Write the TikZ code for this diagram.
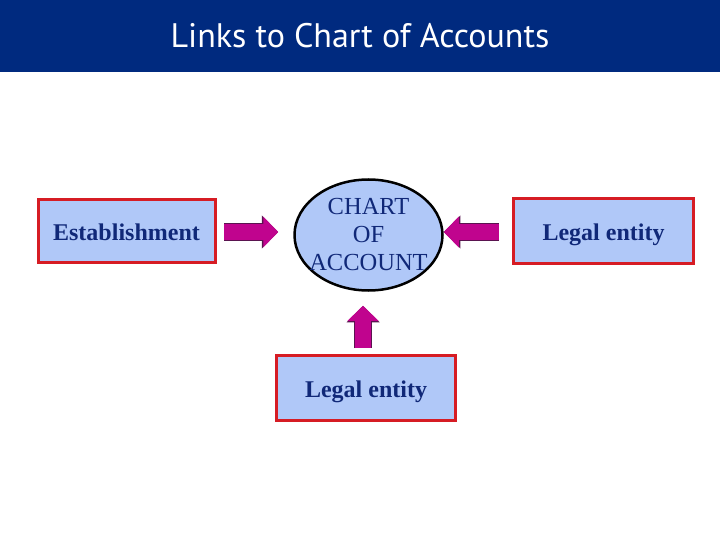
\documentclass[tikz,border=0pt]{standalone}
\usepackage{fontspec}
\setmainfont{Liberation Serif}
\newfontfamily\titlefont{PT Sans}
\usepackage{tikz}
\usetikzlibrary{shapes.geometric, arrows.meta, positioning, calc}
\definecolor{barblue}{RGB}{0,42,127}
\definecolor{boxblue}{RGB}{176,200,248}
\definecolor{boxred}{RGB}{214,28,36}
\definecolor{textnavy}{RGB}{16,40,120}
\definecolor{arrowmag}{RGB}{192,4,142}
\definecolor{arrowline}{RGB}{90,20,80}

\begin{document}
\begin{tikzpicture}[x=1pt, y=-1pt,
		entitybox/.style={draw=boxred, fill=boxblue, line width=3pt, rectangle,
			minimum width=177pt, minimum height=63pt, inner sep=0pt,
			text height=21pt, text depth=2pt,
			text=textnavy, font=\fontsize{24}{28}\selectfont\bfseries},
		chartoval/.style={draw=black, fill=boxblue, line width=2.5pt, ellipse,
			minimum width=148pt, minimum height=111pt, inner sep=0pt},
		chartlabel/.style={align=center, inner sep=0pt,
			text=textnavy, font=\fontsize{24.5}{28}\selectfont},
		blockarrow/.style={draw=arrowmag, line width=16pt,
			-{Triangle[length=15pt, width=30pt]},
			preaction={draw=arrowline, line width=17.5pt,
				-{Triangle[length=16.5pt, width=32pt]}}}]
		% Frame and title bar
		\useasboundingbox (0,0) rectangle (720,540);
		\fill[white] (0,0) rectangle (720,540);
		\fill[barblue] (0,0) rectangle (720,72);
		\node[text=white, font=\titlefont\fontsize{34}{38}\selectfont] (title) at (360,36) {Links to Chart of Accounts};
		% Chart of accounts in the middle
		\node[chartoval, label={[chartlabel]center:CHART\\OF\\ACCOUNT}] (coa) at (368.5,235) {};
		% Linked entities
		\node[entitybox] (est) at (126.5,231) {Establishment};
		\node[entitybox, minimum width=180pt, minimum height=64pt] (legR) at (603.5,231) {Legal entity};
		\node[entitybox, minimum width=179pt, minimum height=65pt] (legB) at (366,388) {Legal entity};
		% Block arrows
		\draw[blockarrow] ($(est.east)+(7.5,1)$) -- ($(coa.west |- est.east)+(-15,1)$);
		\draw[blockarrow] ($(legR.west)+(-13,1)$) -- ($(coa.east |- legR.west)+(0,1)$);
		\draw[blockarrow] ($(legB.north)+(-3,-6)$) -- ($(legB.north |- coa.south)+(-3,14)$);
	\end{tikzpicture}
\end{document}
